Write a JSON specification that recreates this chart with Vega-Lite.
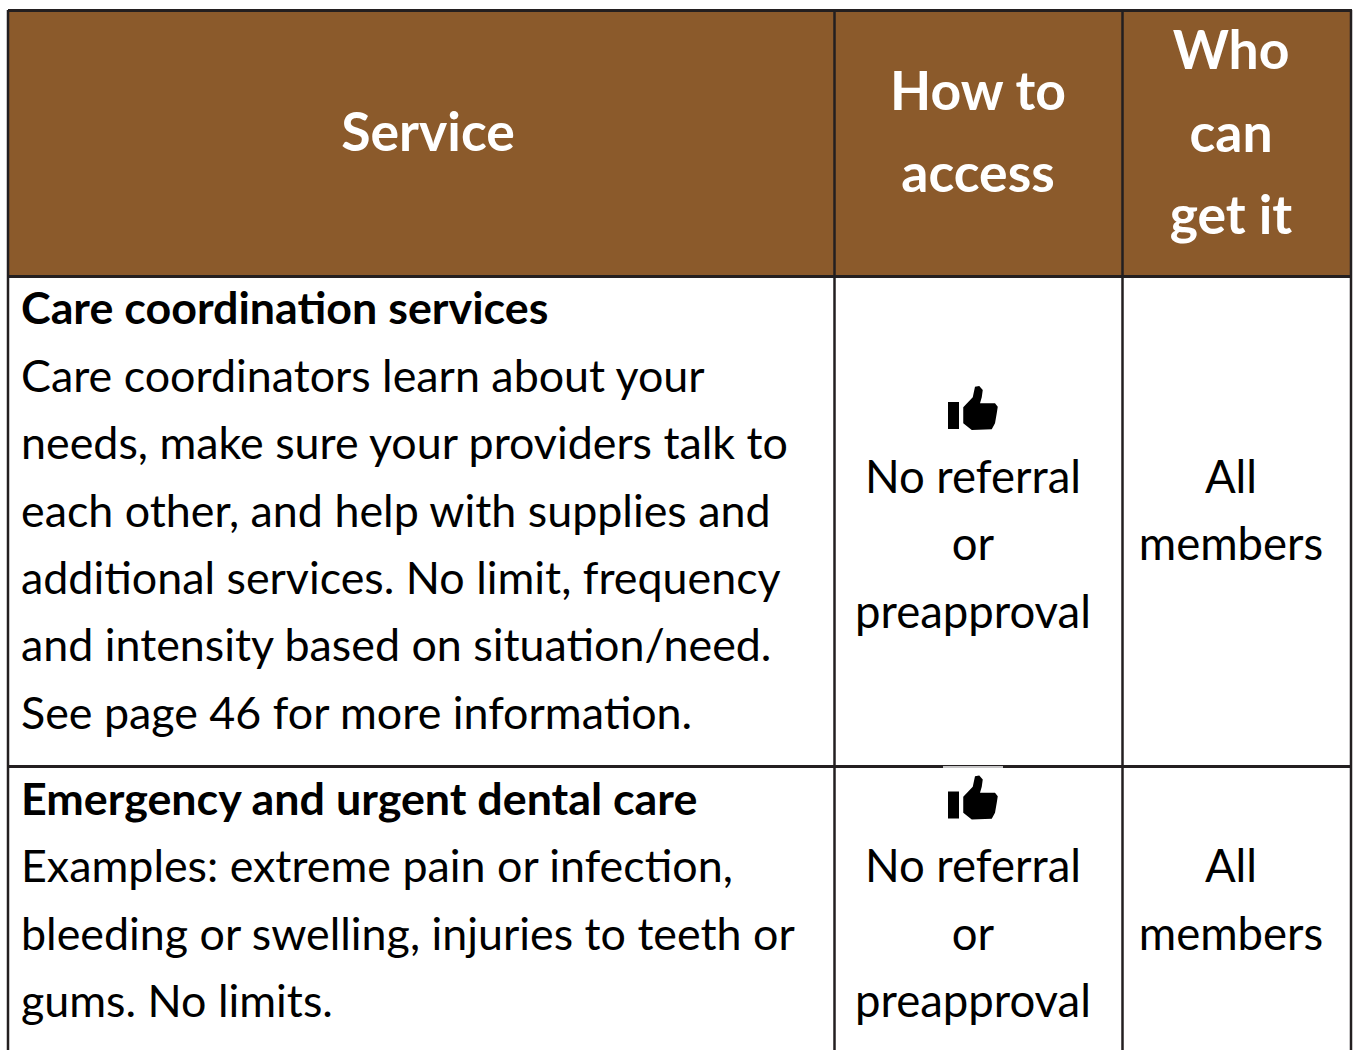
{
"$schema":"https://vega.github.io/schema/vega-lite/v6.json",
"width":1353,"height":1050,"padding":0,"autosize":{"type":"none"},"background":"white",
"view":{"stroke":null},
"datasets":{
"fills":[{"x":8,"x2":1351,"y":10,"y2":276,"c":"header"}],
"rulesH":[
{"x":8,"x2":1352,"y":10.5},{"x":8,"x2":1352,"y":276.5},{"x":8,"x2":1352,"y":766.5},
{"x":943,"x2":1003,"y":767,"gap":1}],
"rulesV":[
{"x":8,"y":10,"y2":1050},{"x":834.5,"y":10,"y2":1050},{"x":1122.5,"y":10,"y2":1050},{"x":1351,"y":10,"y2":1050}],
"icons":[{"x":973,"y":408.5},{"x":973,"y":798}],
"header":[
{"t":"Service","x":428,"y":149},
{"t":"How to","x":978,"y":108},{"t":"access","x":978,"y":190},
{"t":"Who","x":1231,"y":67},{"t":"can","x":1231,"y":150},{"t":"get it","x":1231,"y":232}],
"titles":[
{"t":"Care coordination services","x":21,"y":323},
{"t":"Emergency and urgent dental care","x":21,"y":814}],
"body":[
{"t":"Care coordinators learn about your","x":21,"y":391},
{"t":"needs, make sure your providers talk to","x":21,"y":458},
{"t":"each other, and help with supplies and","x":21,"y":526},
{"t":"additional services. No limit, frequency","x":21,"y":593},
{"t":"and intensity based on situation/need.","x":21,"y":660},
{"t":"See page 46 for more information.","x":21,"y":728},
{"t":"Examples: extreme pain or infection,","x":21,"y":881},
{"t":"bleeding or swelling, injuries to teeth or","x":21,"y":949},
{"t":"gums. No limits.","x":21,"y":1016}],
"centered":[
{"t":"No referral","x":973,"y":492},{"t":"or","x":973,"y":559},{"t":"preapproval","x":973,"y":627},
{"t":"All","x":1231,"y":492},{"t":"members","x":1231,"y":559},
{"t":"No referral","x":973,"y":881},{"t":"or","x":973,"y":949},{"t":"preapproval","x":973,"y":1016},
{"t":"All","x":1231,"y":881},{"t":"members","x":1231,"y":949}]
},
"encoding":{
"x":{"field":"x","type":"quantitative","scale":{"domain":[0,1353],"nice":false,"zero":false},"axis":null},
"y":{"field":"y","type":"quantitative","scale":{"domain":[0,1050],"reverse":true,"nice":false,"zero":false},"axis":null}
},
"layer":[
{"data":{"name":"fills"},"mark":{"type":"rect","color":"#8B5A2B"},"encoding":{"x2":{"field":"x2"},"y2":{"field":"y2"}}},
{"data":{"name":"rulesV"},"mark":{"type":"rule","color":"#231F20","strokeWidth":2.5},"encoding":{"y2":{"field":"y2"}}},
{"data":{"name":"rulesH"},"transform":[{"filter":"!datum.gap"}],"mark":{"type":"rule","color":"#231F20","strokeWidth":3},"encoding":{"x2":{"field":"x2"}}},
{"data":{"name":"rulesH"},"transform":[{"filter":"datum.gap"}],"mark":{"type":"rule","color":"white","strokeWidth":1.5},"encoding":{"x2":{"field":"x2"}}},
{"data":{"name":"icons"},"mark":{"type":"point","filled":true,"color":"black","opacity":1,"size":2500,"shape":"M-1 -0.26L-0.56 -0.26L-0.56 0.82L-1 0.82Z M-0.39 -0.05L-0.01 -0.45L0.08 -0.87L0.25 -0.9L0.39 -0.74L0.35 -0.45L0.28 -0.21L0.88 -0.21L0.99 -0.07L0.95 0.19L0.88 0.59L0.75 0.83L-0.05 0.86L-0.39 0.59Z"}},
{"data":{"name":"header"},"mark":{"type":"text","font":"Lato","fontWeight":"bold","fontSize":53.5,"color":"white","align":"center","baseline":"alphabetic","dy":1.5},"encoding":{"text":{"field":"t"}}},
{"data":{"name":"titles"},"mark":{"type":"text","font":"Lato","fontWeight":"bold","fontSize":44.8,"color":"black","align":"left","baseline":"alphabetic","dy":1},"encoding":{"text":{"field":"t"}}},
{"data":{"name":"body"},"mark":{"type":"text","font":"Lato","fontSize":44.8,"color":"black","align":"left","baseline":"alphabetic","dy":1},"encoding":{"text":{"field":"t"}}},
{"data":{"name":"centered"},"mark":{"type":"text","font":"Lato","fontSize":45.5,"color":"black","align":"center","baseline":"alphabetic","dy":1},"encoding":{"text":{"field":"t"}}}
]
}
